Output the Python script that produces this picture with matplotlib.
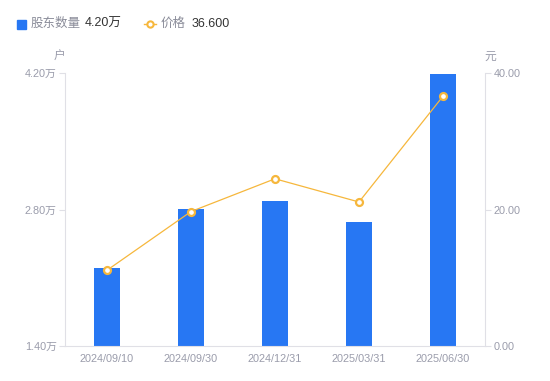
import numpy as np
import matplotlib
matplotlib.use("Agg")
import matplotlib.pyplot as plt
from matplotlib.lines import Line2D

plt.rcParams['font.family'] = ['Liberation Sans', 'Noto Sans CJK SC', 'DejaVu Sans']

dates = ['2024/09/10', '2024/09/30', '2024/12/31', '2025/03/31', '2025/06/30']
holders = [2.20, 2.81, 2.89, 2.67, 4.19]   # 万户
price = [11.1, 19.7, 24.5, 21.1, 36.6]       # 元

bar_color = '#2777f3'
line_color = '#f6b73c'
tick_color = '#9a9cab'
axis_color = '#e0e0e6'

fig = plt.figure(figsize=(5.5, 3.81), dpi=100)
ax = fig.add_axes([65 / 550, 35 / 381, 420 / 550, 273 / 381])
ax2 = ax.twinx()

x = np.arange(len(dates))
ax.bar(x, holders, width=0.3, color=bar_color, bottom=0, zorder=2)
ax.set_xlim(-0.5, 4.5)
ax.set_ylim(1.40, 4.20)
ax.set_yticks([1.40, 2.80, 4.20])
ax.set_yticklabels(['1.40万', '2.80万', '4.20万'])
ax.set_xticks(x)
ax.set_xticklabels(dates)

ax2.plot(x, price, color=line_color, lw=0.9, marker='o', ms=5,
         mfc='white', mec=line_color, mew=1.6, zorder=3)
ax2.set_ylim(0, 40)
ax2.set_yticks([0, 20, 40])
ax2.set_yticklabels(['0.00', '20.00', '40.00'])

for a in (ax, ax2):
    for s in a.spines.values():
        s.set_visible(False)
    a.tick_params(labelsize=7.8, labelcolor=tick_color, color=axis_color,
                  length=4, width=0.8)
ax.spines['left'].set_visible(True)
ax.spines['left'].set_color(axis_color)
ax.spines['bottom'].set_visible(True)
ax.spines['bottom'].set_color(axis_color)
ax2.spines['right'].set_visible(True)
ax2.spines['right'].set_color(axis_color)
ax.tick_params(axis='x', length=0, pad=6)
ax.tick_params(axis='y', pad=2)
ax2.tick_params(axis='y', pad=2)

fig.text(60 / 550, 1 - 57 / 381, '户', fontsize=8.5, color=tick_color,
         ha='center', va='center')
fig.text(490 / 550, 1 - 57 / 381, '元', fontsize=8.5, color=tick_color,
         ha='center', va='center')

# legend row
ly = 1 - 24 / 381
fig.patches.append(plt.Rectangle((17 / 550, 1 - 29 / 381), 9 / 550, 9 / 381,
                                 transform=fig.transFigure, color=bar_color))
fig.text(31 / 550, ly, '股东数量', fontsize=9, color='#8a8c99', va='center')
fig.text(85 / 550, ly, '4.20万', fontsize=9, color='#333333', va='center')
fig.lines.append(Line2D([144 / 550, 156 / 550], [ly, ly], transform=fig.transFigure,
                        color=line_color, lw=1))
fig.lines.append(Line2D([150 / 550], [ly], transform=fig.transFigure,
                        color=line_color, marker='o', ms=4.5, mfc='white',
                        mec=line_color, mew=1.5))
fig.text(161 / 550, ly, '价格', fontsize=9, color='#8a8c99', va='center')
fig.text(192 / 550, ly, '36.600', fontsize=9, color='#333333', va='center')

fig.savefig('out.png', dpi=100)
